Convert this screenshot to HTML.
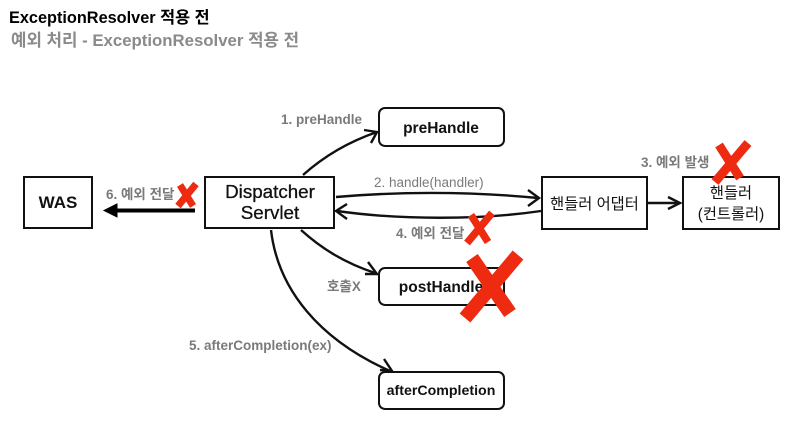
<!DOCTYPE html>
<html><head><meta charset="utf-8">
<style>
html,body{margin:0;padding:0;background:#fff;width:801px;height:428px;overflow:hidden}
svg{display:block}
text{font-family:"Liberation Sans","Noto Sans CJK KR",sans-serif}
.l{fill:#7a7a7a;font-size:13.5px;font-weight:bold}
.n{fill:#111;font-size:15.3px;text-anchor:middle}
.b{fill:#111;font-size:15.5px;font-weight:bold;text-anchor:middle}
.box{fill:#fff;stroke:#111;stroke-width:2}
.c{fill:none;stroke:#111;stroke-width:2.4}
.a{fill:none;stroke:#111;stroke-width:2.4}
.x{fill:none;stroke:#ee2a10;stroke-linecap:butt}
</style></head><body>
<svg width="801" height="428" viewBox="0 0 801 428" xmlns="http://www.w3.org/2000/svg">
<text x="9" y="23" style="font-size:16.3px;font-weight:bold" fill="#000">ExceptionResolver 적용 전</text>
<text x="11" y="46" style="font-size:16.8px;font-weight:bold" fill="#8a8a8a">예외 처리 - ExceptionResolver 적용 전</text>

<rect class="box" x="24" y="177" width="68" height="51"/>
<text class="n" x="58" y="208" style="font-weight:bold;font-size:17px">WAS</text>
<rect class="box" x="205" y="177" width="129" height="51"/>
<text class="n" x="270" y="198" style="font-size:18.8px;stroke:#111;stroke-width:.3">Dispatcher</text>
<text class="n" x="270" y="219" style="font-size:18.8px;stroke:#111;stroke-width:.3">Servlet</text>
<rect class="box" x="379" y="108" width="125" height="38" rx="6"/>
<text class="b" x="441" y="133">preHandle</text>
<rect class="box" x="379" y="268" width="125" height="37" rx="6"/>
<text class="b" x="441" y="292">postHandle</text>
<rect class="box" x="379" y="372" width="125" height="37" rx="6"/>
<text class="b" x="441" y="395" style="font-size:14.2px">afterCompletion</text>
<rect class="box" x="542" y="177" width="105" height="52"/>
<text class="n" x="594.500" y="209">핸들러 어댑터</text>
<rect class="box" x="683" y="177" width="96" height="52"/>
<text class="n" x="731" y="198">핸들러</text>
<text class="n" x="731" y="219">(컨트롤러)</text>

<path class="c" d="M303 175 C322 158 345 143 377 132"/>
<path class="a" d="M364 130 L377 132 L371 143"/>
<path class="c" d="M336 197 C400 191.500 470 191.500 538 198"/>
<path class="a" d="M528 190 L539 198 L528 206"/>
<path class="c" d="M541 211 C480 220 400 220 337 211"/>
<path class="a" d="M347 204 L336 211 L347 219"/>
<path class="c" d="M648 203 L680 203"/>
<path class="a" d="M668 197 L680 203 L668 209"/>
<path class="c" d="M301 230 C322 249 345 263 375 273"/>
<path class="a" d="M368 262 L377 274 L365 274"/>
<path class="c" d="M271 230 C278 290 320 340 390 371"/>
<path class="a" d="M384 359 L392 371 L380 370"/>
<path d="M195 210.500 L117 210.500" stroke="#000" stroke-width="4" fill="none"/>
<path d="M117 204 L104 210.500 L117 217 Z" fill="#000" stroke="#000"/>

<text class="l" x="281" y="124">1. preHandle</text>
<text class="l" x="374" y="187" style="font-weight:normal">2. handle(handler)</text>
<text class="l" x="641" y="167">3. 예외 발생</text>
<text class="l" x="396" y="238">4. 예외 전달</text>
<text class="l" x="327" y="291">호출X</text>
<text class="l" x="189" y="350">5. afterCompletion(ex)</text>
<text class="l" x="106" y="199">6. 예외 전달</text>

<path class="x" stroke-width="7" d="M180 185 L193 206 M196 184 L178 206"/>
<path class="x" stroke-width="9" d="M719 145 L740 178 M748 143 L715 182"/>
<path class="x" stroke-width="7.500" d="M471 215 L488 242 M492 213 L467 243"/>
<path class="x" stroke-width="14" d="M472 258 L510 313 M518 255 L465 318"/>
</svg>
</body></html>
